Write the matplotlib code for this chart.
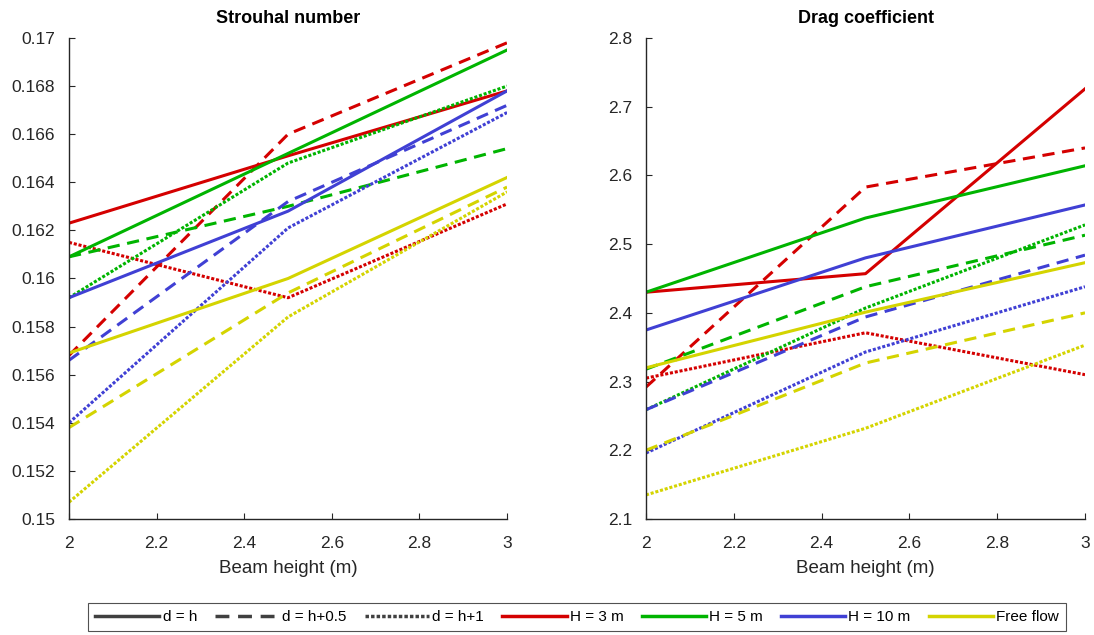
import matplotlib
matplotlib.use("Agg")
import matplotlib.pyplot as plt
from matplotlib.lines import Line2D

plt.rcParams['font.family'] = ['Liberation Sans', 'DejaVu Sans']

beam_height = [2, 2.5, 3]

# Strouhal number, keyed by (case, style)
st_h3 = [0.1623, 0.1651, 0.1678]
st_h3_05 = [0.1568, 0.1660, 0.1698]
st_h3_1 = [0.1615, 0.1592, 0.1631]
st_h5 = [0.1609, 0.1652, 0.1695]
st_h5_05 = [0.1609, 0.1630, 0.1654]
st_h5_1 = [0.1592, 0.1648, 0.1680]
st_h10 = [0.1592, 0.1628, 0.1678]
st_h10_05 = [0.1566, 0.1632, 0.1672]
st_h10_1 = [0.1540, 0.1621, 0.1669]
st_free = [0.1569, 0.1600, 0.1642]
st_free_05 = [0.1538, 0.1594, 0.1638]
st_free_1 = [0.1507, 0.1584, 0.1636]

# Drag coefficient
cd_h3 = [2.430, 2.457, 2.726]
cd_h3_05 = [2.292, 2.583, 2.640]
cd_h3_1 = [2.305, 2.371, 2.310]
cd_h5 = [2.430, 2.538, 2.614]
cd_h5_05 = [2.318, 2.438, 2.513]
cd_h5_1 = [2.259, 2.407, 2.528]
cd_h10 = [2.375, 2.480, 2.557]
cd_h10_05 = [2.259, 2.394, 2.484]
cd_h10_1 = [2.196, 2.343, 2.438]
cd_free = [2.320, 2.401, 2.473]
cd_free_05 = [2.200, 2.327, 2.400]
cd_free_1 = [2.135, 2.232, 2.353]

cases = ['H = 3 m', 'H = 5 m', 'H = 10 m', 'Free flow']
styles = ['d = h', 'd = h+0.5', 'd = h+1']
colors = ['#d40000', '#00b400', '#4040d4', '#d4d400']
dashes = ['-', (0, (4, 2.5)), (0, (1, 0.6))]

st = [[st_h3, st_h3_05, st_h3_1], [st_h5, st_h5_05, st_h5_1],
      [st_h10, st_h10_05, st_h10_1], [st_free, st_free_05, st_free_1]]
cd = [[cd_h3, cd_h3_05, cd_h3_1], [cd_h5, cd_h5_05, cd_h5_1],
      [cd_h10, cd_h10_05, cd_h10_1], [cd_free, cd_free_05, cd_free_1]]

fig = plt.figure(figsize=(10.94, 6.35), dpi=100)
ax1 = fig.add_axes([0.0631, 0.1827, 0.4004, 0.7575])
ax2 = fig.add_axes([0.5905, 0.1827, 0.4013, 0.7575])


def draw(ax, data, title, ylim, yticks, ylabels):
    for i, c in enumerate(colors):
        for j, ls in enumerate(dashes):
            ax.plot(beam_height, data[i][j], color=c, linestyle=ls, lw=2.2)
    ax.set_xlim(2, 3)
    ax.set_ylim(*ylim)
    ax.set_xticks([2, 2.2, 2.4, 2.6, 2.8, 3])
    ax.set_xticklabels(['2', '2.2', '2.4', '2.6', '2.8', '3'])
    ax.set_yticks(yticks)
    ax.set_yticklabels(ylabels)
    ax.spines['top'].set_visible(False)
    ax.spines['right'].set_visible(False)
    for s in ['left', 'bottom']:
        ax.spines[s].set_color('#262626')
        ax.spines[s].set_linewidth(1.0)
    ax.tick_params(direction='in', length=4, colors='#262626', labelsize=12.5,
                   labelcolor='#262626')
    ax.tick_params(axis='x', pad=12)
    ax.tick_params(axis='y', pad=10)
    ax.set_title(title, fontsize=13, fontweight='bold', pad=11)
    ax.set_xlabel('Beam height (m)', fontsize=13.5, color='#262626', labelpad=7)


st_ticks = [0.15 + 0.002 * k for k in range(11)]
st_labels = ['0.15', '0.152', '0.154', '0.156', '0.158', '0.16',
             '0.162', '0.164', '0.166', '0.168', '0.17']
draw(ax1, st, 'Strouhal number', (0.15, 0.17), st_ticks, st_labels)

cd_ticks = [2.1, 2.2, 2.3, 2.4, 2.5, 2.6, 2.7, 2.8]
draw(ax2, cd, 'Drag coefficient', (2.1, 2.8), cd_ticks,
     ['%.1f' % v for v in cd_ticks])

handles = [Line2D([], [], color='#404040', linestyle=ls, lw=2.5) for ls in dashes]
handles += [Line2D([], [], color=c, lw=2.5) for c in colors]
leg = fig.legend(handles, styles + cases, loc='center', bbox_to_anchor=(0.5275, 0.0285),
                 ncol=7, fontsize=11, frameon=True, fancybox=False,
                 handlelength=4.2, handletextpad=0.2, columnspacing=1.2,
                 borderpad=0.45)
leg.get_frame().set_edgecolor('#262626')
leg.get_frame().set_linewidth(0.8)

fig.savefig('out.png', dpi=100)
